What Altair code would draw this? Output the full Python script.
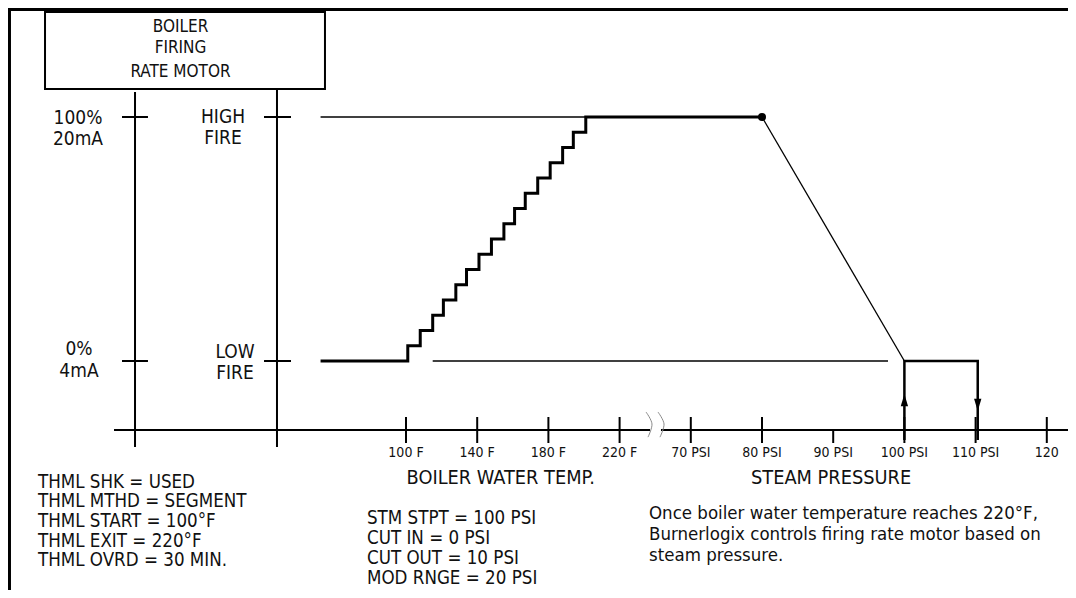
import altair as alt
import pandas as pd

# ---------------- data ----------------
TEMP_TICKS = [100, 140, 180, 220]
TEMP_LABELS = ["100 F", "140 F", "180 F", "220 F"]
PSI_TICKS = [70, 80, 90, 100, 110, 120]
PSI_LABELS = ["70 PSI", "80 PSI", "90 PSI", "100 PSI", "110 PSI", "120"]

# thermal shock staircase (riser temperature in F, firing rate after the riser in %)
STEP_TEMPS = [101, 108, 115, 121, 128, 134, 141, 148, 155, 161, 167, 174, 181, 188, 194, 201]
STEP_LEVELS = [6.25, 12.5, 18.75, 25, 31.25, 37.5, 43.75, 50, 56.25, 62.5,
               68.75, 75, 81.25, 87.5, 93.75, 100]
LINE_START_TEMP = 52      # left end of firing lines (F)
LOW_THIN_START_TEMP = 115
LOW_THIN_END_PSI = 97.7
MOD_START_PSI = 80        # high fire until here
MOD_END_PSI = 100         # low fire reached at set point
CUT_OUT_PSI = 110.3

LEFT_NOTES = ["THML SHK = USED", "THML MTHD = SEGMENT", "THML START = 100°F",
              "THML EXIT = 220°F", "THML OVRD = 30 MIN."]
MID_NOTES = ["STM STPT = 100 PSI", "CUT IN = 0 PSI", "CUT OUT = 10 PSI", "MOD RNGE = 20 PSI"]
RIGHT_NOTES = ["Once boiler water temperature reaches 220°F,",
               "Burnerlogix controls firing rate motor based on",
               "steam pressure."]
BOX_LINES = ["BOILER", "FIRING", "RATE MOTOR"]

FONT = "DejaVu Sans Condensed, sans-serif"

# chart units: x = scale divisions (100F = 0, 40F per division, 70 PSI = 4, 10 PSI per division)
#              y = firing rate in % (0 = low fire, 100 = high fire)
def tdiv(t):
    return (t - 100) / 40


def pdiv(p):
    return 4 + (p - 70) / 10


X_DOMAIN = [-5.5899, 9.2978]
Y_DOMAIN = [-93.852, 144.672]
AXIS_Y = -28.28
TICK_TOP, TICK_BOT = -22.95, -33.61

W, H = 1060, 582
xs = alt.Scale(domain=X_DOMAIN, nice=False, zero=False)
ys = alt.Scale(domain=Y_DOMAIN, nice=False, zero=False)

# ---------------- segments ----------------
seg = []
def add(x, x2, y, y2, w):
    seg.append(dict(x=x, x2=x2, y=y, y2=y2, w=w))

add(X_DOMAIN[0], X_DOMAIN[1], 144.06, 144.06, 3)        # frame top
add(-5.569, -5.569, Y_DOMAIN[1], Y_DOMAIN[0], 3)        # frame left
add(-3.806, -3.806, 110.25, -35.25, 2)                  # motor axis
add(-1.812, -1.812, 111.48, -35.25, 2)                  # fire axis
for yy in (100, 0):
    add(-3.989, -3.624, yy, yy, 2)
    add(-1.994, -1.615, yy, yy, 2)
add(-4.101, 3.427, AXIS_Y, AXIS_Y, 2)                   # horizontal axis (broken)
add(3.581, X_DOMAIN[1], AXIS_Y, AXIS_Y, 2)
for t in TEMP_TICKS:
    add(tdiv(t), tdiv(t), TICK_TOP, TICK_BOT, 2)
for p in PSI_TICKS:
    add(pdiv(p), pdiv(p), AXIS_Y if p == 90 else TICK_TOP, TICK_BOT, 2)
add(tdiv(LINE_START_TEMP), tdiv(STEP_TEMPS[-1]), 100, 100, 1.4)       # thin high fire line
add(tdiv(LOW_THIN_START_TEMP), pdiv(LOW_THIN_END_PSI), 0, 0, 1.4)     # thin low fire line
add(pdiv(MOD_START_PSI), pdiv(MOD_END_PSI), 100, 0, 1.3)              # modulation ramp
seg_df = pd.DataFrame(seg)

rules = alt.Chart(seg_df).mark_rule(color="black").encode(
    x=alt.X("x:Q", scale=xs, axis=None), x2="x2:Q",
    y=alt.Y("y:Q", scale=ys, axis=None), y2="y2:Q",
    strokeWidth=alt.StrokeWidth("w:Q", scale=None),
)

box_df = pd.DataFrame([dict(x=-5.070, x2=-1.138, y=111.48, y2=143.03)])
box = alt.Chart(box_df).mark_rect(fill=None, stroke="black", strokeWidth=2).encode(
    x=alt.X("x:Q", scale=xs, axis=None), x2="x2:Q",
    y=alt.Y("y:Q", scale=ys, axis=None), y2="y2:Q")

# staircase
st = [dict(x=tdiv(LINE_START_TEMP), y=0, k=0)]
for i, (t, l) in enumerate(zip(STEP_TEMPS, STEP_LEVELS)):
    st.append(dict(x=tdiv(t), y=l, k=i + 1))
st.append(dict(x=pdiv(MOD_START_PSI), y=100, k=len(st)))
stairs = alt.Chart(pd.DataFrame(st)).mark_line(
    color="black", strokeWidth=3, interpolate="step-after").encode(
    x=alt.X("x:Q", scale=xs, axis=None), y=alt.Y("y:Q", scale=ys, axis=None),
    order="k:Q")

# cut-in / cut-out loop
loop_df = pd.DataFrame([
    dict(x=pdiv(MOD_END_PSI), y=-32.4, k=0), dict(x=pdiv(MOD_END_PSI), y=0, k=1),
    dict(x=pdiv(CUT_OUT_PSI), y=0, k=2), dict(x=pdiv(CUT_OUT_PSI), y=-32.4, k=3)])
loop = alt.Chart(loop_df).mark_line(color="black", strokeWidth=2.5, strokeJoin="miter").encode(
    x=alt.X("x:Q", scale=xs, axis=None), y=alt.Y("y:Q", scale=ys, axis=None), order="k:Q")

# break symbol
brk_df = pd.DataFrame([
    dict(x=3.371, y=-20.9, k=0, g="a"), dict(x=3.455, y=-25.8, k=1, g="a"), dict(x=3.399, y=-31.2, k=2, g="a"),
    dict(x=3.539, y=-20.9, k=0, g="b"), dict(x=3.624, y=-25.8, k=1, g="b"), dict(x=3.567, y=-31.2, k=2, g="b")])
brk = alt.Chart(brk_df).mark_line(color="#8a8a8a", strokeWidth=1, interpolate="cardinal").encode(
    x=alt.X("x:Q", scale=xs, axis=None), y=alt.Y("y:Q", scale=ys, axis=None),
    detail="g:N", order="k:Q")

dot = alt.Chart(pd.DataFrame([dict(x=pdiv(MOD_START_PSI), y=100)])).mark_point(
    shape="circle", filled=True, color="black", size=64, opacity=1).encode(
    x=alt.X("x:Q", scale=xs, axis=None), y=alt.Y("y:Q", scale=ys, axis=None))

arr_up = alt.Chart(pd.DataFrame([dict(x=pdiv(MOD_END_PSI), y=-16.0)])).mark_point(
    shape="M0,-1L0.6,1L-0.6,1Z", filled=True, color="black", size=150, opacity=1).encode(
    x=alt.X("x:Q", scale=xs, axis=None), y=alt.Y("y:Q", scale=ys, axis=None))
arr_dn = alt.Chart(pd.DataFrame([dict(x=pdiv(CUT_OUT_PSI), y=-18.0)])).mark_point(
    shape="M0,1L0.6,-1L-0.6,-1Z", filled=True, color="black", size=150, opacity=1).encode(
    x=alt.X("x:Q", scale=xs, axis=None), y=alt.Y("y:Q", scale=ys, axis=None))

# ---------------- texts ----------------
ctr = []
for s, yy in zip(BOX_LINES, [136.9, 128.3, 118.4]):
    ctr.append(dict(t=s, x=-3.167, y=yy, s=17))
for s, xx, yy in [("100%", -4.607, 99.6), ("20mA", -4.607, 91.0), ("0%", -4.593, 4.9), ("4mA", -4.593, -4.1),
                  ("HIGH", -2.570, 100.0), ("FIRE", -2.570, 91.4), ("LOW", -2.402, 3.7), ("FIRE", -2.402, -4.9)]:
    ctr.append(dict(t=s, x=xx, y=yy, s=19))
for t, lab in zip(TEMP_TICKS, TEMP_LABELS):
    ctr.append(dict(t=lab, x=tdiv(t), y=-37.7, s=14))
for p, lab in zip(PSI_TICKS, PSI_LABELS):
    ctr.append(dict(t=lab, x=pdiv(p), y=-37.7, s=14))
ctr.append(dict(t="BOILER WATER TEMP.", x=1.33, y=-47.95, s=19.8))
ctr.append(dict(t="STEAM PRESSURE", x=5.97, y=-47.95, s=19.8))

lft = []
for s, yy in zip(LEFT_NOTES, [-49.59, -57.58, -65.57, -73.57, -81.56]):
    lft.append(dict(t=s, x=-5.169, y=yy, s=18.6))
for s, yy in zip(MID_NOTES, [-64.34, -72.54, -80.74, -88.93]):
    lft.append(dict(t=s, x=-0.548, y=yy, s=18.6))
for s, yy in zip(RIGHT_NOTES, [-62.30, -70.90, -79.51]):
    lft.append(dict(t=s, x=3.413, y=yy, s=18.5))

def text_layer(rows, align):
    return alt.Chart(pd.DataFrame(rows)).mark_text(
        align=align, baseline="middle", font=FONT, color="#111111").encode(
        x=alt.X("x:Q", scale=xs, axis=None), y=alt.Y("y:Q", scale=ys, axis=None),
        text="t:N", size=alt.Size("s:Q", scale=None))

chart = alt.layer(
    rules, box, brk, stairs, loop, dot, arr_up, arr_dn,
    text_layer(ctr, "center"), text_layer(lft, "left"),
).properties(width=W, height=H, padding=0, autosize=alt.AutoSizeParams(type="none")
).configure_view(stroke=None).configure(background="white")

chart.save("out.html", embed_options={"renderer": "svg", "actions": False})
